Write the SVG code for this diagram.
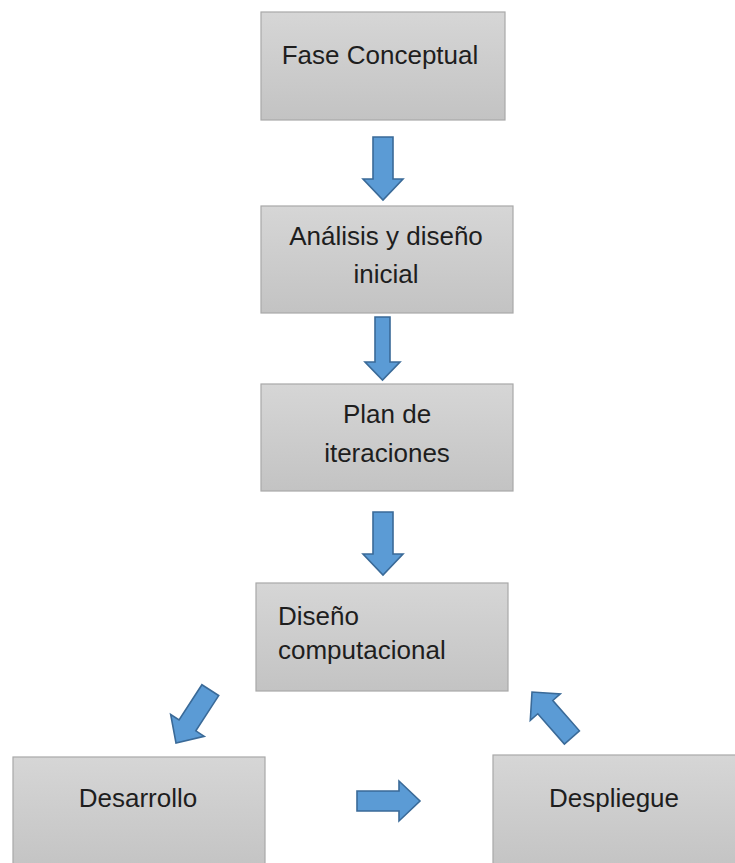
<svg xmlns="http://www.w3.org/2000/svg" width="735" height="863" viewBox="0 0 735 863">
  <defs>
    <linearGradient id="boxFill" x1="0" y1="0" x2="0" y2="1">
      <stop offset="0" stop-color="#d6d6d6"/>
      <stop offset="1" stop-color="#c3c3c3"/>
    </linearGradient>
    <!-- block arrow pointing down, tip at origin -->
    <path id="blockArrow" d="M -10,-63 L 10,-63 L 10,-21 L 20,-21 L 0,0 L -20,-21 L -10,-21 Z"/>
  </defs>
  <style>
    .box { fill: url(#boxFill); stroke: #a8a8a8; stroke-width: 1.2; }
    .label { font-family: "Liberation Sans", Arial, sans-serif; font-size: 26px; fill: #1e1e1e; }
    .mid { text-anchor: middle; }
    .arrow { fill: #5b9bd5; stroke: #3a6a98; stroke-width: 1.6; stroke-linejoin: miter; }
  </style>
  <rect width="735" height="863" fill="#ffffff"/>

  <g id="fase-conceptual">
    <rect class="box" x="261" y="12" width="244" height="108"/>
    <text class="label mid" x="380" y="64">Fase Conceptual</text>
  </g>

  <g id="analisis-diseno">
    <rect class="box" x="261" y="206" width="252" height="107"/>
    <text class="label mid" x="386" y="245">Análisis y diseño</text>
    <text class="label mid" x="386" y="283">inicial</text>
  </g>

  <g id="plan-iteraciones">
    <rect class="box" x="261" y="384" width="252" height="107"/>
    <text class="label mid" x="387" y="423">Plan de</text>
    <text class="label mid" x="387" y="462">iteraciones</text>
  </g>

  <g id="diseno-computacional">
    <rect class="box" x="256" y="583" width="252" height="108"/>
    <text class="label" x="278" y="625">Diseño</text>
    <text class="label" x="278" y="659">computacional</text>
  </g>

  <g id="desarrollo">
    <rect class="box" x="13" y="757" width="252" height="115"/>
    <text class="label mid" x="138" y="807">Desarrollo</text>
  </g>

  <g id="despliegue">
    <rect class="box" x="493" y="755" width="252" height="117"/>
    <text class="label mid" x="614" y="807">Despliegue</text>
  </g>

  <g id="connectors">
    <use class="arrow" href="#blockArrow" transform="translate(383,200)"/>
    <path class="arrow" d="M 375,317 L 390,317 L 390,362 L 400,362 L 382.5,380 L 365,362 L 375,362 Z"/>
    <use class="arrow" href="#blockArrow" transform="translate(383,575)"/>
    <use class="arrow" href="#blockArrow" transform="translate(176,743) rotate(33)"/>
    <use class="arrow" href="#blockArrow" transform="translate(420,801) rotate(-90)"/>
    <use class="arrow" href="#blockArrow" transform="translate(532,692) rotate(138.7) scale(1,0.96)"/>
  </g>
</svg>
